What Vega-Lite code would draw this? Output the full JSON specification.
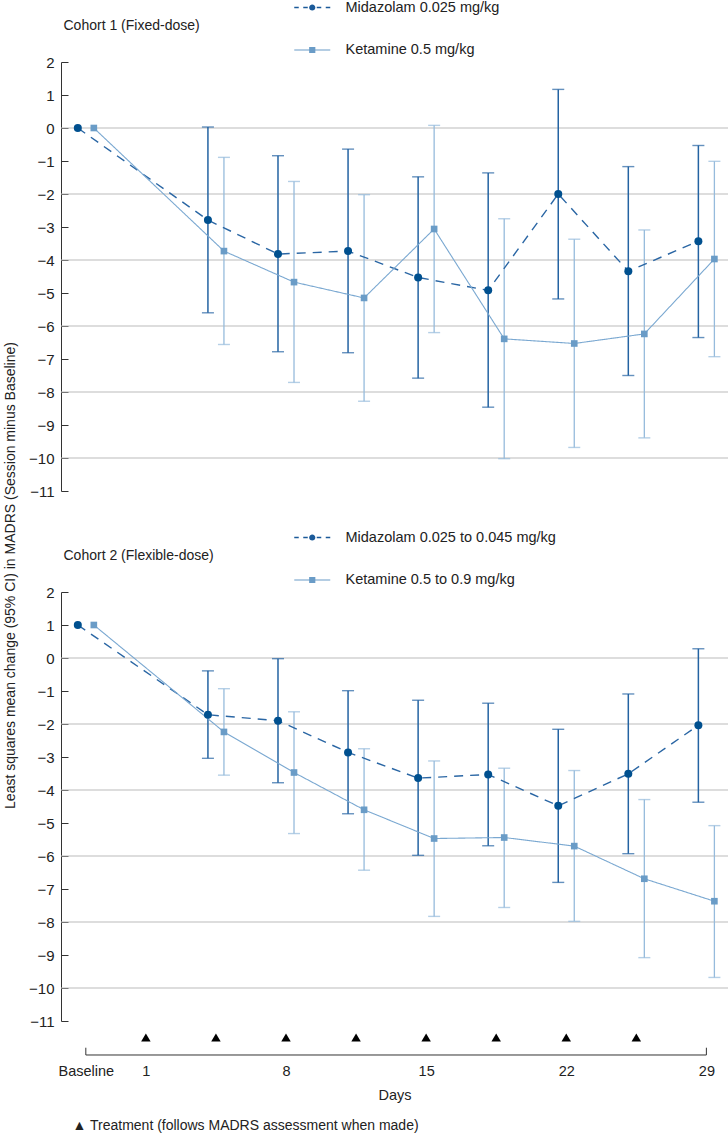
{
  "$schema": "https://vega.github.io/schema/vega-lite/v6.json",
  "padding": {"left": 3, "top": 0, "right": 0, "bottom": 0},
  "bounds": "flush",
  "spacing": 101,
  "config": {
    "view": {"stroke": null},
    "font": "Liberation Sans",
    "axis": {"labelFont": "Liberation Sans", "titleFont": "Liberation Sans", "labelColor": "#222", "titleColor": "#222", "titleFontWeight": "normal", "labelOverlap": false},
    "legend": {"labelFont": "Liberation Sans"},
    "title": {"font": "Liberation Sans", "fontWeight": "normal", "color": "#222", "fontSize": 14}
  },
  "datasets": {
    "cohorts": [
      {"c": 1, "drug": "Midazolam", "series": "Midazolam 0.025 mg/kg", "day": -2.4, "mean": 0, "lo": null, "hi": null},
      {"c": 1, "drug": "Midazolam", "series": "Midazolam 0.025 mg/kg", "day": 4.1, "mean": -2.79, "lo": -5.6, "hi": 0.03},
      {"c": 1, "drug": "Midazolam", "series": "Midazolam 0.025 mg/kg", "day": 7.6, "mean": -3.82, "lo": -6.78, "hi": -0.84},
      {"c": 1, "drug": "Midazolam", "series": "Midazolam 0.025 mg/kg", "day": 11.1, "mean": -3.73, "lo": -6.81, "hi": -0.64},
      {"c": 1, "drug": "Midazolam", "series": "Midazolam 0.025 mg/kg", "day": 14.6, "mean": -4.53, "lo": -7.58, "hi": -1.48},
      {"c": 1, "drug": "Midazolam", "series": "Midazolam 0.025 mg/kg", "day": 18.1, "mean": -4.92, "lo": -8.46, "hi": -1.36},
      {"c": 1, "drug": "Midazolam", "series": "Midazolam 0.025 mg/kg", "day": 21.6, "mean": -2.0, "lo": -5.18, "hi": 1.17},
      {"c": 1, "drug": "Midazolam", "series": "Midazolam 0.025 mg/kg", "day": 25.1, "mean": -4.34, "lo": -7.5, "hi": -1.17},
      {"c": 1, "drug": "Midazolam", "series": "Midazolam 0.025 mg/kg", "day": 28.6, "mean": -3.43, "lo": -6.35, "hi": -0.53},
      {"c": 1, "drug": "Ketamine", "series": "Ketamine 0.5 mg/kg", "day": -1.6, "mean": 0, "lo": null, "hi": null},
      {"c": 1, "drug": "Ketamine", "series": "Ketamine 0.5 mg/kg", "day": 4.9, "mean": -3.73, "lo": -6.56, "hi": -0.89},
      {"c": 1, "drug": "Ketamine", "series": "Ketamine 0.5 mg/kg", "day": 8.4, "mean": -4.67, "lo": -7.71, "hi": -1.62},
      {"c": 1, "drug": "Ketamine", "series": "Ketamine 0.5 mg/kg", "day": 11.9, "mean": -5.15, "lo": -8.28, "hi": -2.02},
      {"c": 1, "drug": "Ketamine", "series": "Ketamine 0.5 mg/kg", "day": 15.4, "mean": -3.06, "lo": -6.2, "hi": 0.08},
      {"c": 1, "drug": "Ketamine", "series": "Ketamine 0.5 mg/kg", "day": 18.9, "mean": -6.39, "lo": -10.02, "hi": -2.75},
      {"c": 1, "drug": "Ketamine", "series": "Ketamine 0.5 mg/kg", "day": 22.4, "mean": -6.53, "lo": -9.68, "hi": -3.37},
      {"c": 1, "drug": "Ketamine", "series": "Ketamine 0.5 mg/kg", "day": 25.9, "mean": -6.24, "lo": -9.39, "hi": -3.09},
      {"c": 1, "drug": "Ketamine", "series": "Ketamine 0.5 mg/kg", "day": 29.4, "mean": -3.97, "lo": -6.93, "hi": -1.01},
      {"c": 2, "drug": "Midazolam", "series": "Midazolam 0.025 to 0.045 mg/kg", "day": -2.4, "mean": 1, "lo": null, "hi": null},
      {"c": 2, "drug": "Midazolam", "series": "Midazolam 0.025 to 0.045 mg/kg", "day": 4.1, "mean": -1.72, "lo": -3.04, "hi": -0.39},
      {"c": 2, "drug": "Midazolam", "series": "Midazolam 0.025 to 0.045 mg/kg", "day": 7.6, "mean": -1.9, "lo": -3.78, "hi": -0.02},
      {"c": 2, "drug": "Midazolam", "series": "Midazolam 0.025 to 0.045 mg/kg", "day": 11.1, "mean": -2.86, "lo": -4.72, "hi": -0.99},
      {"c": 2, "drug": "Midazolam", "series": "Midazolam 0.025 to 0.045 mg/kg", "day": 14.6, "mean": -3.64, "lo": -5.98, "hi": -1.28},
      {"c": 2, "drug": "Midazolam", "series": "Midazolam 0.025 to 0.045 mg/kg", "day": 18.1, "mean": -3.53, "lo": -5.69, "hi": -1.37},
      {"c": 2, "drug": "Midazolam", "series": "Midazolam 0.025 to 0.045 mg/kg", "day": 21.6, "mean": -4.48, "lo": -6.8, "hi": -2.16},
      {"c": 2, "drug": "Midazolam", "series": "Midazolam 0.025 to 0.045 mg/kg", "day": 25.1, "mean": -3.51, "lo": -5.93, "hi": -1.09},
      {"c": 2, "drug": "Midazolam", "series": "Midazolam 0.025 to 0.045 mg/kg", "day": 28.6, "mean": -2.04, "lo": -4.37, "hi": 0.28},
      {"c": 2, "drug": "Ketamine", "series": "Ketamine 0.5 to 0.9 mg/kg", "day": -1.6, "mean": 1, "lo": null, "hi": null},
      {"c": 2, "drug": "Ketamine", "series": "Ketamine 0.5 to 0.9 mg/kg", "day": 4.9, "mean": -2.24, "lo": -3.55, "hi": -0.93},
      {"c": 2, "drug": "Ketamine", "series": "Ketamine 0.5 to 0.9 mg/kg", "day": 8.4, "mean": -3.47, "lo": -5.32, "hi": -1.63},
      {"c": 2, "drug": "Ketamine", "series": "Ketamine 0.5 to 0.9 mg/kg", "day": 11.9, "mean": -4.6, "lo": -6.43, "hi": -2.75},
      {"c": 2, "drug": "Ketamine", "series": "Ketamine 0.5 to 0.9 mg/kg", "day": 15.4, "mean": -5.47, "lo": -7.83, "hi": -3.12},
      {"c": 2, "drug": "Ketamine", "series": "Ketamine 0.5 to 0.9 mg/kg", "day": 18.9, "mean": -5.44, "lo": -7.56, "hi": -3.34},
      {"c": 2, "drug": "Ketamine", "series": "Ketamine 0.5 to 0.9 mg/kg", "day": 22.4, "mean": -5.7, "lo": -7.98, "hi": -3.41},
      {"c": 2, "drug": "Ketamine", "series": "Ketamine 0.5 to 0.9 mg/kg", "day": 25.9, "mean": -6.69, "lo": -9.08, "hi": -4.29},
      {"c": 2, "drug": "Ketamine", "series": "Ketamine 0.5 to 0.9 mg/kg", "day": 29.4, "mean": -7.37, "lo": -9.68, "hi": -5.08}
    ],
    "grid": [{"g": 0}, {"g": -2}, {"g": -4}, {"g": -6}, {"g": -8}, {"g": -10}],
    "treat": [{"day": 1}, {"day": 4.5}, {"day": 8}, {"day": 11.5}, {"day": 15}, {"day": 18.5}, {"day": 22}, {"day": 25.5}],
    "ends": [{"day": -2}, {"day": 29}],
    "span": [{"from": -2, "to": 29}]
  },
  "title": {
    "text": "▲ Treatment (follows MADRS assessment when made)",
    "orient": "bottom",
    "anchor": "start",
    "frame": "group",
    "dx": 11.5,
    "offset": 17,
    "fontSize": 14
  },
  "vconcat": [
    {
      "width": 667,
      "height": 429,
      "title": {"text": "Cohort 1 (Fixed-dose)", "anchor": "start", "frame": "group", "baseline": "middle", "offset": -40, "dx": 2.5},
      "resolve": {"axis": {"x": "independent", "y": "independent"}},
      "layer": [
        {
          "data": {"name": "grid"},
          "mark": {"type": "rule", "color": "#bcbcbc", "strokeWidth": 1.2},
          "encoding": {
            "y": {
              "field": "g", "type": "quantitative",
              "scale": {"domain": [-11, 2], "nice": false, "zero": false},
              "axis": {
                "orient": "left", "offset": -7,
                "values": [-11, -9, -7, -5, -3, -1, 1],
                "grid": false, "domain": false, "ticks": true, "tickColor": "#333", "tickSize": 7, "tickWidth": 1,
                "labelFontSize": 15, "labelPadding": 7, "labelOverlap": false,
                "title": "Least squares mean change (95% CI) in MADRS (Session minus Baseline)",
                "titleFontSize": 14, "titleX": -57.5, "titleY": 513, "titleAlign": "center", "titleBaseline": "middle", "titleAngle": -90
              }
            }
          }
        },
        {
          "data": {"name": "cohorts"},
          "transform": [{"filter": "datum.c === 1 && datum.lo != null"}],
          "mark": {"type": "rule"},
          "encoding": {
            "x": {"field": "day", "type": "quantitative", "scale": {"domain": [-3.24, 30.08], "nice": false, "zero": false}, "axis": null},
            "y": {
              "field": "lo", "type": "quantitative",
              "axis": {
                "orient": "left", "offset": -7,
                "values": [-10, -8, -6, -4, -2, 0, 2],
                "grid": false, "domain": false, "ticks": true, "tickColor": "#333", "tickSize": 7, "tickWidth": 1,
                "labelFontSize": 15, "labelPadding": 7, "labelOverlap": false, "title": null
              }
            },
            "y2": {"field": "hi"},
            "color": {"condition": {"test": "datum.drug === 'Midazolam'", "value": "#2463a2"}, "value": "#96bbdc"},
            "strokeWidth": {"condition": {"test": "datum.drug === 'Midazolam'", "value": 1.5}, "value": 1.3}
          }
        },
        {
          "data": {"name": "cohorts"},
          "transform": [{"filter": "datum.c === 1 && datum.lo != null"}],
          "mark": {"type": "tick", "orient": "horizontal", "size": 12, "thickness": 1.4},
          "encoding": {
            "x": {"field": "day", "type": "quantitative", "axis": null},
            "y": {
              "field": "lo", "type": "quantitative",
              "axis": {"orient": "left", "domain": true, "domainColor": "#333", "domainWidth": 1, "ticks": false, "labels": false, "grid": false, "title": null}
            },
            "color": {"condition": {"test": "datum.drug === 'Midazolam'", "value": "#2463a2"}, "value": "#96bbdc"}
          }
        },
        {
          "data": {"name": "cohorts"},
          "transform": [{"filter": "datum.c === 1 && datum.lo != null"}],
          "mark": {"type": "tick", "orient": "horizontal", "size": 12, "thickness": 1.4},
          "encoding": {
            "x": {"field": "day", "type": "quantitative", "axis": null},
            "y": {"field": "hi", "type": "quantitative", "axis": null},
            "color": {"condition": {"test": "datum.drug === 'Midazolam'", "value": "#2463a2"}, "value": "#96bbdc"}
          }
        },
        {
          "data": {"name": "cohorts"},
          "transform": [{"filter": "datum.c === 1"}],
          "mark": {"type": "line"},
          "encoding": {
            "x": {"field": "day", "type": "quantitative", "axis": null},
            "y": {"field": "mean", "type": "quantitative", "axis": null},
            "detail": {"field": "drug"},
            "color": {"condition": {"test": "datum.drug === 'Midazolam'", "value": "#2a66a4"}, "value": "#7aa8d1"},
            "strokeWidth": {"condition": {"test": "datum.drug === 'Midazolam'", "value": 1.4}, "value": 1.1},
            "strokeDash": {"condition": {"test": "datum.drug === 'Midazolam'", "value": [9, 7]}, "value": [1, 0]}
          }
        },
        {
          "data": {"name": "cohorts"},
          "transform": [{"filter": "datum.c === 1"}],
          "mark": {"type": "point", "filled": true, "opacity": 1},
          "encoding": {
            "x": {"field": "day", "type": "quantitative", "axis": null},
            "y": {"field": "mean", "type": "quantitative", "axis": null},
            "color": {"condition": {"test": "datum.drug === 'Midazolam'", "value": "#00508f"}, "value": "#6a9cc7"},
            "shape": {"condition": {"test": "datum.drug === 'Midazolam'", "value": "circle"}, "value": "square"},
            "size": {"condition": {"test": "datum.drug === 'Midazolam'", "value": 64}, "value": 44}
          }
        },
        {
          "data": {"name": "cohorts"},
          "transform": [{"filter": "datum.c === 1"}],
          "mark": {"type": "point", "filled": true, "opacity": 0},
          "encoding": {
            "x": {"field": "day", "type": "quantitative", "axis": null},
            "y": {"field": "mean", "type": "quantitative", "axis": null},
            "color": {
              "field": "series", "type": "nominal",
              "scale": {"domain": ["Midazolam 0.025 mg/kg", "Ketamine 0.5 mg/kg"], "range": ["#1b5a99", "#6a9cc7"]},
              "legend": {
                "orient": "none", "legendX": 244, "legendY": -61.75, "direction": "vertical", "title": null,
                "symbolSize": 100, "symbolOpacity": 1, "symbolStrokeWidth": 0, "labelOffset": 26, "labelFontSize": 14.5, "labelColor": "#222", "labelLimit": 400, "rowPadding": 27.5, "padding": 0
              }
            },
            "shape": {
              "field": "series", "type": "nominal",
              "scale": {"domain": ["Midazolam 0.025 mg/kg", "Ketamine 0.5 mg/kg"], "range": ["M-3.6,-0.15H-2.7V0.15H-3.6Z M-1.8,-0.15H-0.9V0.15H-1.8Z M0.9,-0.15H1.8V0.15H0.9Z M2.7,-0.15H3.6V0.15H2.7Z M-0.62,0A0.62,0.62,0,1,1,0.62,0A0.62,0.62,0,1,1,-0.62,0Z", "M-3.6,-0.12H3.6V0.12H-3.6Z M-0.62,-0.62H0.62V0.62H-0.62Z"]},
              "legend": {
                "orient": "none", "legendX": 244, "legendY": -61.75, "direction": "vertical", "title": null,
                "symbolSize": 100, "symbolOpacity": 1, "symbolStrokeWidth": 0, "labelOffset": 26, "labelFontSize": 14.5, "labelColor": "#222", "labelLimit": 400, "rowPadding": 27.5, "padding": 0
              }
            }
          }
        }
      ]
    },
    {
      "width": 667,
      "height": 429,
      "title": {"text": "Cohort 2 (Flexible-dose)", "anchor": "start", "frame": "group", "baseline": "middle", "offset": -40, "dx": 2.5},
      "resolve": {"axis": {"x": "independent", "y": "independent"}},
      "layer": [
        {
          "data": {"name": "grid"},
          "mark": {"type": "rule", "color": "#bcbcbc", "strokeWidth": 1.2},
          "encoding": {
            "y": {
              "field": "g", "type": "quantitative",
              "scale": {"domain": [-11, 2], "nice": false, "zero": false},
              "axis": {
                "orient": "left", "offset": -7,
                "values": [-11, -9, -7, -5, -3, -1, 1],
                "grid": false, "domain": false, "ticks": true, "tickColor": "#333", "tickSize": 7, "tickWidth": 1,
                "labelFontSize": 15, "labelPadding": 7, "labelOverlap": false, "title": null
              }
            }
          }
        },
        {
          "data": {"name": "treat"},
          "mark": {"type": "point", "shape": "triangle-up", "filled": true, "color": "#000", "opacity": 1, "size": 90},
          "encoding": {
            "x": {
              "field": "day", "type": "quantitative",
              "scale": {"domain": [-3.24, 30.08], "nice": false, "zero": false},
              "axis": {
                "values": [-2, 1, 8, 15, 22, 29],
                "labelExpr": "datum.value === -2 ? 'Baseline' : datum.label",
                "ticks": false, "domain": false, "grid": false, "offset": 41, "labelPadding": 2,
                "labelFontSize": 14.5, "labelFlush": false, "labelOverlap": false,
                "title": "Days", "titleFontSize": 14.5, "titlePadding": 11
              }
            },
            "y": {"datum": -11.5, "type": "quantitative", "axis": null}
          }
        },
        {
          "data": {"name": "span"},
          "mark": {"type": "rule", "color": "#333", "strokeWidth": 1},
          "encoding": {
            "x": {"field": "from", "type": "quantitative", "axis": null},
            "x2": {"field": "to"},
            "y": {"datum": -12.03, "type": "quantitative", "axis": null}
          }
        },
        {
          "data": {"name": "ends"},
          "mark": {"type": "rule", "color": "#333", "strokeWidth": 1},
          "encoding": {
            "x": {"field": "day", "type": "quantitative", "axis": null},
            "y": {"datum": -12.03, "type": "quantitative", "axis": null},
            "y2": {"datum": -11.81}
          }
        },
        {
          "data": {"name": "cohorts"},
          "transform": [{"filter": "datum.c === 2 && datum.lo != null"}],
          "mark": {"type": "rule"},
          "encoding": {
            "x": {"field": "day", "type": "quantitative", "axis": null},
            "y": {
              "field": "lo", "type": "quantitative",
              "axis": {
                "orient": "left", "offset": -7,
                "values": [-10, -8, -6, -4, -2, 0, 2],
                "grid": false, "domain": false, "ticks": true, "tickColor": "#333", "tickSize": 7, "tickWidth": 1,
                "labelFontSize": 15, "labelPadding": 7, "labelOverlap": false, "title": null
              }
            },
            "y2": {"field": "hi"},
            "color": {"condition": {"test": "datum.drug === 'Midazolam'", "value": "#2463a2"}, "value": "#96bbdc"},
            "strokeWidth": {"condition": {"test": "datum.drug === 'Midazolam'", "value": 1.5}, "value": 1.3}
          }
        },
        {
          "data": {"name": "cohorts"},
          "transform": [{"filter": "datum.c === 2 && datum.lo != null"}],
          "mark": {"type": "tick", "orient": "horizontal", "size": 12, "thickness": 1.4},
          "encoding": {
            "x": {"field": "day", "type": "quantitative", "axis": null},
            "y": {
              "field": "lo", "type": "quantitative",
              "axis": {"orient": "left", "domain": true, "domainColor": "#333", "domainWidth": 1, "ticks": false, "labels": false, "grid": false, "title": null}
            },
            "color": {"condition": {"test": "datum.drug === 'Midazolam'", "value": "#2463a2"}, "value": "#96bbdc"}
          }
        },
        {
          "data": {"name": "cohorts"},
          "transform": [{"filter": "datum.c === 2 && datum.lo != null"}],
          "mark": {"type": "tick", "orient": "horizontal", "size": 12, "thickness": 1.4},
          "encoding": {
            "x": {"field": "day", "type": "quantitative", "axis": null},
            "y": {"field": "hi", "type": "quantitative", "axis": null},
            "color": {"condition": {"test": "datum.drug === 'Midazolam'", "value": "#2463a2"}, "value": "#96bbdc"}
          }
        },
        {
          "data": {"name": "cohorts"},
          "transform": [{"filter": "datum.c === 2"}],
          "mark": {"type": "line"},
          "encoding": {
            "x": {"field": "day", "type": "quantitative", "axis": null},
            "y": {"field": "mean", "type": "quantitative", "axis": null},
            "detail": {"field": "drug"},
            "color": {"condition": {"test": "datum.drug === 'Midazolam'", "value": "#2a66a4"}, "value": "#7aa8d1"},
            "strokeWidth": {"condition": {"test": "datum.drug === 'Midazolam'", "value": 1.4}, "value": 1.1},
            "strokeDash": {"condition": {"test": "datum.drug === 'Midazolam'", "value": [9, 7]}, "value": [1, 0]}
          }
        },
        {
          "data": {"name": "cohorts"},
          "transform": [{"filter": "datum.c === 2"}],
          "mark": {"type": "point", "filled": true, "opacity": 1},
          "encoding": {
            "x": {"field": "day", "type": "quantitative", "axis": null},
            "y": {"field": "mean", "type": "quantitative", "axis": null},
            "color": {"condition": {"test": "datum.drug === 'Midazolam'", "value": "#00508f"}, "value": "#6a9cc7"},
            "shape": {"condition": {"test": "datum.drug === 'Midazolam'", "value": "circle"}, "value": "square"},
            "size": {"condition": {"test": "datum.drug === 'Midazolam'", "value": 64}, "value": 44}
          }
        },
        {
          "data": {"name": "cohorts"},
          "transform": [{"filter": "datum.c === 2"}],
          "mark": {"type": "point", "filled": true, "opacity": 0},
          "encoding": {
            "x": {"field": "day", "type": "quantitative", "axis": null},
            "y": {"field": "mean", "type": "quantitative", "axis": null},
            "color": {
              "field": "series", "type": "nominal",
              "scale": {"domain": ["Midazolam 0.025 to 0.045 mg/kg", "Ketamine 0.5 to 0.9 mg/kg"], "range": ["#1b5a99", "#6a9cc7"]},
              "legend": {
                "orient": "none", "legendX": 244, "legendY": -61.75, "direction": "vertical", "title": null,
                "symbolSize": 100, "symbolOpacity": 1, "symbolStrokeWidth": 0, "labelOffset": 26, "labelFontSize": 14.5, "labelColor": "#222", "labelLimit": 400, "rowPadding": 27.5, "padding": 0
              }
            },
            "shape": {
              "field": "series", "type": "nominal",
              "scale": {"domain": ["Midazolam 0.025 to 0.045 mg/kg", "Ketamine 0.5 to 0.9 mg/kg"], "range": ["M-3.6,-0.15H-2.7V0.15H-3.6Z M-1.8,-0.15H-0.9V0.15H-1.8Z M0.9,-0.15H1.8V0.15H0.9Z M2.7,-0.15H3.6V0.15H2.7Z M-0.62,0A0.62,0.62,0,1,1,0.62,0A0.62,0.62,0,1,1,-0.62,0Z", "M-3.6,-0.12H3.6V0.12H-3.6Z M-0.62,-0.62H0.62V0.62H-0.62Z"]},
              "legend": {
                "orient": "none", "legendX": 244, "legendY": -61.75, "direction": "vertical", "title": null,
                "symbolSize": 100, "symbolOpacity": 1, "symbolStrokeWidth": 0, "labelOffset": 26, "labelFontSize": 14.5, "labelColor": "#222", "labelLimit": 400, "rowPadding": 27.5, "padding": 0
              }
            }
          }
        }
      ]
    }
  ],
  "resolve": {
    "scale": {"color": "independent", "shape": "independent", "x": "independent", "y": "independent"},
    "legend": {"color": "independent", "shape": "independent"}
  }
}
